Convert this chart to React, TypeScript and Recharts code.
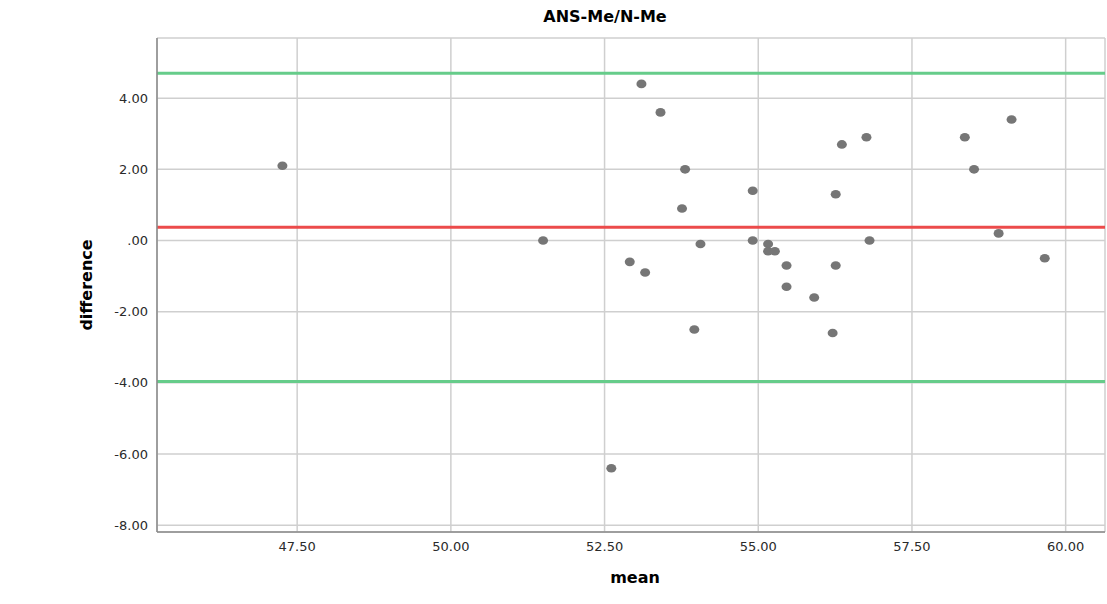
import { CartesianGrid, ReferenceLine, Scatter, ScatterChart, XAxis, YAxis } from 'recharts';

const means = [
  47.26, 51.5, 53.1, 53.41, 53.81, 54.91, 53.76, 54.06, 54.91, 55.16, 55.16, 55.27, 55.46, 55.46,
  52.91, 53.16, 53.96, 56.36, 56.76, 58.36, 59.12, 58.51, 56.26, 58.91, 56.81, 59.66, 56.26, 55.91,
  56.21, 52.61,
];
const diffs = [
  2.1, 0.0, 4.4, 3.6, 2.0, 1.4, 0.9, -0.1, 0.0, -0.1, -0.3, -0.3, -0.7, -1.3, -0.6, -0.9, -2.5, 2.7,
  2.9, 2.9, 3.4, 2.0, 1.3, 0.2, 0.0, -0.5, -0.7, -1.6, -2.6, -6.4,
];
const meanDiff = 0.37;
const upperLimit = 4.7;
const lowerLimit = -3.96;
const xTicks = [47.5, 50, 52.5, 55, 57.5, 60];
const yTicks = [-8, -6, -4, -2, 0, 2, 4];

const points = means.map((m, i) => ({ mean: m, difference: diffs[i] }));

const fmt = (v: number) => (v === 0 ? '.00' : v.toFixed(2));
const tickStyle = { fontSize: 13, fill: '#2a2a2a', fontFamily: 'DejaVu Sans' };
const labelStyle: React.CSSProperties = {
  position: 'absolute',
  fontFamily: 'DejaVu Sans',
  fontWeight: 'bold',
  fontSize: 16,
  lineHeight: '16px',
  color: '#000',
  whiteSpace: 'nowrap',
};

const Dot = (props: any) => (
  <ellipse cx={props.cx} cy={props.cy} rx={5} ry={4.3} fill="#767676" />
);

export default function App() {
  return (
    <div style={{ position: 'absolute', left: 0, top: 0, width: 1107, height: 604, background: '#fff' }}>
      <div style={{ ...labelStyle, left: 605, top: 9, transform: 'translateX(-50%)' }}>ANS-Me/N-Me</div>
      <div style={{ ...labelStyle, left: 635, top: 570, transform: 'translateX(-50%)' }}>mean</div>
      <div
        style={{ ...labelStyle, left: 87, top: 277, transform: 'translateX(-50%) rotate(-90deg)' }}
      >
        difference
      </div>
      <ScatterChart width={1107} height={604} margin={{ top: 38, right: 2, bottom: 0, left: 0 }}>
        <CartesianGrid stroke="#cfcfcf" strokeWidth={1.5} />
        <XAxis
          type="number"
          dataKey="mean"
          domain={[45.22, 60.64]}
          ticks={xTicks}
          tickFormatter={fmt}
          tick={tickStyle}
          tickLine={false}
          tickMargin={4}
          height={72}
          axisLine={{ stroke: '#8a8a8a', strokeWidth: 1.5 }}
          allowDataOverflow
        />
        <YAxis
          type="number"
          dataKey="difference"
          domain={[-8.19, 5.69]}
          ticks={yTicks}
          tickFormatter={fmt}
          tick={tickStyle}
          tickLine={false}
          tickMargin={3}
          width={157}
          axisLine={{ stroke: '#8a8a8a', strokeWidth: 1.5 }}
          allowDataOverflow
        />
        <ReferenceLine y={upperLimit} stroke="#66cc8a" strokeWidth={3} />
        <ReferenceLine y={lowerLimit} stroke="#66cc8a" strokeWidth={3} />
        <ReferenceLine y={meanDiff} stroke="#ec4b4b" strokeWidth={3} />
        <Scatter data={points} shape={Dot} isAnimationActive={false} />
      </ScatterChart>
    </div>
  );
}
